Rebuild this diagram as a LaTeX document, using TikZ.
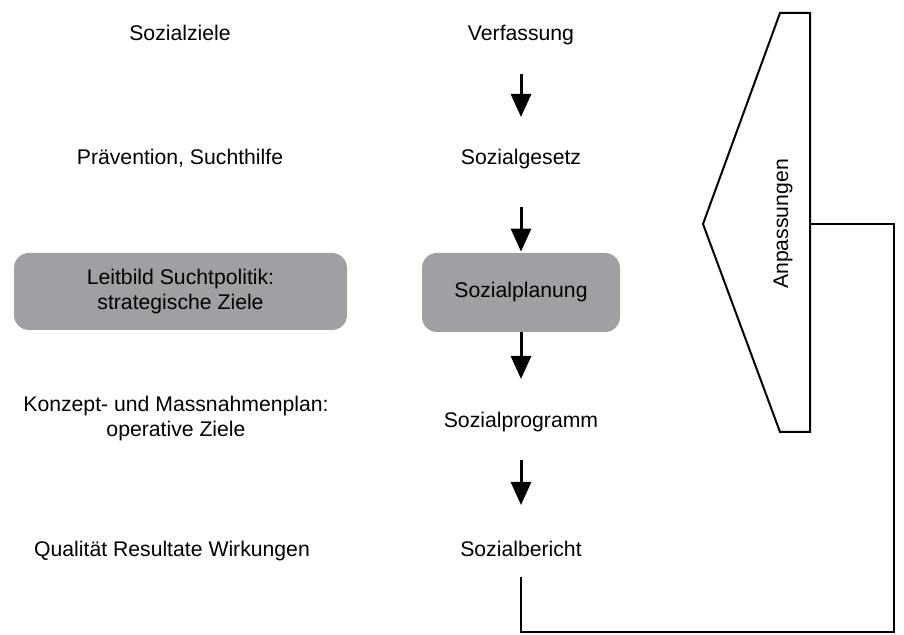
\documentclass[tikz,border=0pt]{standalone}
\usepackage{fontspec}
\setmainfont{Liberation Sans}
\usepackage{tikz}
\usetikzlibrary{arrows.meta}
\usepackage{xcolor}
\definecolor{planbox}{RGB}{160,159,164}

\begin{document}
\begin{tikzpicture}[x=0.5pt,y=-0.5pt,
    every node/.style={font=\fontsize{10.6}{12.5}\selectfont},
    txt/.style={inner sep=0pt,text height=7.4pt,text depth=2.2pt},
    grau/.style={fill=planbox,rounded corners=7.5pt,align=center},
    pfeil/.style={line width=1.5pt,-{Triangle[width=10pt,length=11.5pt]}},
    rueck/.style={line width=1pt,line join=miter}]
    \useasboundingbox (0,0) rectangle (904,635);
    % Ziele
    \node[txt] (ziele) at (180,35) {Sozialziele};
    \node[txt] (praev) at (180,159) {Prävention, Suchthilfe};
    \node[grau,minimum width=166.5pt,minimum height=38.5pt] (leit) at (180.5,291.5) {Leitbild Suchtpolitik:\\strategische Ziele};
    \node[inner sep=0pt,align=center] (konz) at (176,419) {Konzept- und Massnahmenplan:\\operative Ziele};
    \node[txt] (qual) at (172,551) {Qualität Resultate Wirkungen};
    % Instrumente
    \node[txt] (verf) at (521,35) {Verfassung};
    \node[txt] (gesetz) at (521,159) {Sozialgesetz};
    \node[grau,minimum width=99pt,minimum height=39.5pt] (plan) at (521,292.5) {Sozialplanung};
    \node[txt] (prog) at (521,422) {Sozialprogramm};
    \node[txt] (ber) at (521,551) {Sozialbericht};
    % Pfeile
    \draw[pfeil,shorten <=14.5pt,shorten >=16pt] (verf) -- (gesetz);
    \draw[pfeil,shorten <=19pt,shorten >=0.5pt] (gesetz) -- (plan);
    \draw[pfeil,shorten >=16.5pt] (plan) -- (prog);
    \draw[pfeil,shorten <=14pt,shorten >=18pt] (prog) -- (ber);
    % Anpassungen
    \coordinate (pspitze) at (703,224);
    \coordinate (prechts) at (810,224);
    \draw[rueck] (780,13) -- (810,13) -- (810,432) -- (780,432) -- (pspitze) -- cycle;
    \node[rotate=90] (anp) at (783,224) {Anpassungen};
    % Rueckkopplung
    \coordinate (recke) at (894,632);
    \draw[rueck,shorten <=8pt] (ber) |- (recke) |- (prechts);
\end{tikzpicture}
\end{document}
